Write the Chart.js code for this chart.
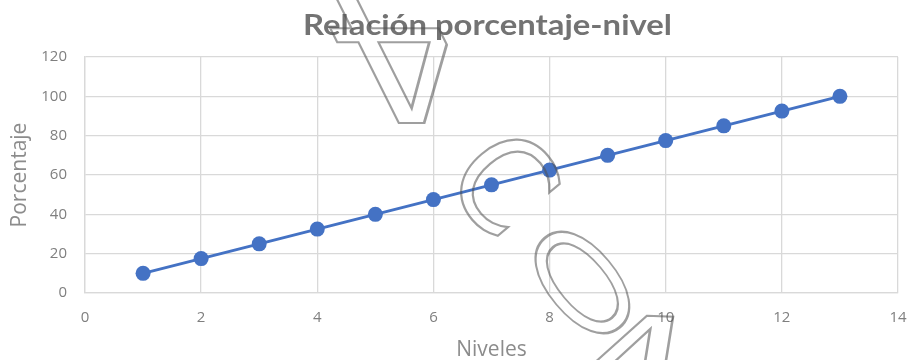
<!DOCTYPE html>
<html>
<head>
<meta charset="utf-8">
<script src="https://cdn.jsdelivr.net/npm/chart.js@4.4.1/dist/chart.umd.min.js"></script>
<style>
  html, body { margin: 0; padding: 0; background: #ffffff; }
  canvas { display: block; }
</style>
</head>
<body>
<canvas id="chart" width="907" height="360"></canvas>
<script>
// Series: percentage reached at each level
const niveles = [1, 2, 3, 4, 5, 6, 7, 8, 9, 10, 11, 12, 13];
const porcentaje = [10, 17.5, 25, 32.5, 40, 47.5, 55, 62.5, 70, 77.5, 85, 92.5, 100];

// Text
const chartTitle = 'Relación porcentaje-nivel';
const xAxisTitle = 'Niveles';
const yAxisTitle = 'Porcentaje';
const watermarkLetters = ['4', 'C', 'O', '4'];

const points = niveles.map((x, i) => ({ x: x, y: porcentaje[i] }));

const GRID = '#d9d9d9';
const TICK = '#7f7f7f';
const AXIS_TITLE = '#8c8c8c';
const BLUE = '#4472c4';

// Heading centred over the plotting area, stretched to a wide geometric look
const titlePlugin = {
  id: 'centredTitle',
  afterDraw(chart) {
    const { ctx, chartArea } = chart;
    ctx.save();
    ctx.font = 'bold 28px Lato, "DejaVu Sans", sans-serif';
    ctx.fillStyle = '#737373';
    ctx.textAlign = 'center';
    ctx.textBaseline = 'middle';
    const w = ctx.measureText(chartTitle).width;
    const stretch = 369 / w;
    ctx.translate((chartArea.left + chartArea.right) / 2 - 4, 26);
    ctx.scale(stretch, 1);
    ctx.fillText(chartTitle, 0, 0);
    ctx.restore();
  }
};

// Outlined, distorted letters laid over the chart.
// Each glyph gets its own affine matrix [a, b, c, d] around its centre.
const watermarkPlugin = {
  id: 'watermark',
  afterDraw(chart) {
    const { ctx } = chart;
    const rot = (deg, sx, sy) => {
      const r = deg * Math.PI / 180;
      return [Math.cos(r) * sx, Math.sin(r) * sx, -Math.sin(r) * sy, Math.cos(r) * sy];
    };
    const layout = [
      { cx: 400, cy: 61,  m: [-1.2, 0, -0.5, -1.0],  size: 170 },
      { cx: 505, cy: 182, m: rot(50, 0.9, 0.95),      size: 138 },
      { cx: 582, cy: 282, m: rot(-40, 0.72, 1.1),     size: 140 },
      { cx: 631, cy: 370, m: [1.4, 0.05, -0.16, 1.0], size: 150 }
    ];
    ctx.save();
    ctx.strokeStyle = 'rgba(80,80,80,0.55)';
    ctx.lineJoin = 'miter';
    watermarkLetters.forEach((ch, i) => {
      const g = layout[i];
      const [a, b, c, d] = g.m;
      ctx.save();
      ctx.transform(a, b, c, d, g.cx, g.cy);
      ctx.font = g.size + 'px "DejaVu Sans", sans-serif';
      ctx.textAlign = 'center';
      ctx.textBaseline = 'alphabetic';
      const mt = ctx.measureText(ch);
      const off = (mt.actualBoundingBoxAscent - mt.actualBoundingBoxDescent) / 2;
      ctx.lineWidth = 2.2 / Math.sqrt(Math.abs(a * d - b * c));
      ctx.strokeText(ch, 0, off);
      ctx.restore();
    });
    ctx.restore();
  }
};

new Chart(document.getElementById('chart'), {
  type: 'scatter',
  data: {
    datasets: [{
      data: points,
      showLine: true,
      borderColor: BLUE,
      backgroundColor: BLUE,
      borderWidth: 3,
      pointRadius: 7.5,
      pointHoverRadius: 7.5,
      pointBorderWidth: 0,
      tension: 0
    }]
  },
  options: {
    responsive: false,
    animation: false,
    layout: { padding: { top: 57, right: 9, bottom: 0, left: 0 } },
    plugins: {
      legend: { display: false },
      tooltip: { enabled: false },
      title: { display: false }
    },
    scales: {
      x: {
        type: 'linear',
        min: 0,
        max: 14,
        ticks: {
          stepSize: 2,
          color: TICK,
          padding: 16,
          font: { family: '"Open Sans", sans-serif', size: 15 }
        },
        grid: { color: GRID, lineWidth: 1.3, drawTicks: false },
        border: { color: GRID, width: 1.3 },
        title: {
          display: true,
          text: xAxisTitle,
          color: AXIS_TITLE,
          font: { family: '"Open Sans", sans-serif', size: 21, lineHeight: 1 },
          padding: { top: 0, bottom: -0.5 }
        },
        afterFit(scale) {
          scale.height = 67;
          scale.paddingLeft = 0;
          scale.paddingRight = 0;
        }
      },
      y: {
        type: 'linear',
        min: 0,
        max: 120,
        ticks: {
          stepSize: 20,
          color: TICK,
          padding: 18,
          font: { family: '"Open Sans", sans-serif', size: 15 }
        },
        grid: { color: GRID, lineWidth: 1.3, drawTicks: false },
        border: { color: GRID, width: 1.3 },
        title: {
          display: true,
          text: yAxisTitle,
          color: AXIS_TITLE,
          font: { family: '"Open Sans", sans-serif', size: 21, lineHeight: 1 },
          padding: { top: 9.5, bottom: 0 }
        },
        afterFit(scale) { scale.width = 85; }
      }
    }
  },
  plugins: [titlePlugin, watermarkPlugin]
});
</script>
</body>
</html>
